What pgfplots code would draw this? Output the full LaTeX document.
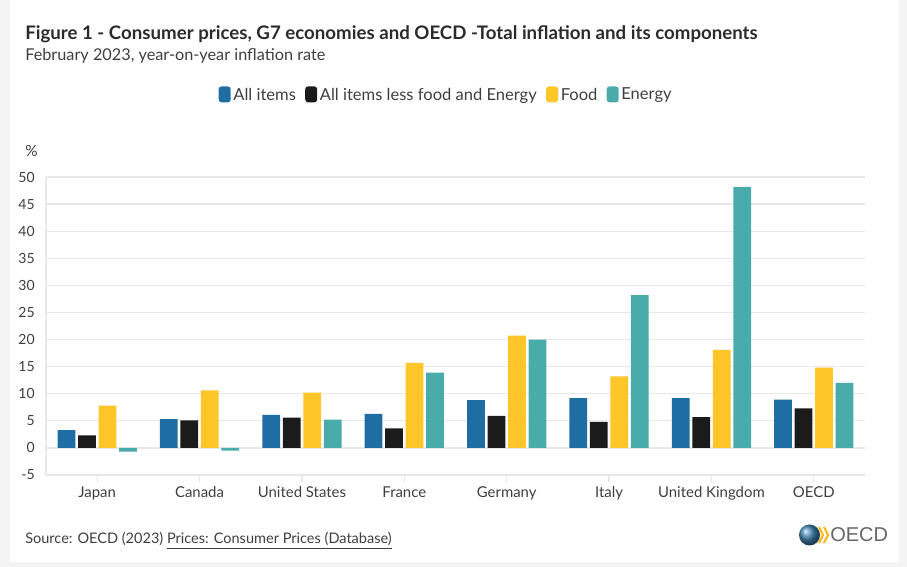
\documentclass[border=0pt]{standalone}
\usepackage{pgfplots}
\pgfplotsset{compat=1.18}
\usepackage{fontspec}
\setmainfont{Lato}
\newfontfamily\logofont{Liberation Sans}
\definecolor{cblue}{HTML}{1F6EA3}
\definecolor{cblack}{HTML}{1B1B1B}
\definecolor{cyellow}{HTML}{FFC629}
\definecolor{cteal}{HTML}{4AABAB}
\definecolor{gridc}{HTML}{E8E8E8}
\definecolor{bggray}{HTML}{F4F4F4}
\definecolor{titlec}{HTML}{2B2B2B}
\definecolor{textc}{HTML}{3F3F3F}
\definecolor{logoc}{HTML}{666666}
\pgfplotsset{
  mybar/.style={ybar, bar width=0.173, draw=none, fill=#1,
    legend image code/.code={\fill[#1,rounded corners=2.2pt] (0pt,-5.5pt) rectangle (9pt,6.5pt);}},
}
\pgfplotstableread{
x allitems core food energy
0 3.3 2.3 7.8 -0.7
1 5.3 5.1 10.6 -0.5
2 6.1 5.6 10.2 5.2
3 6.3 3.6 15.7 13.9
4 8.8 5.9 20.7 20.0
5 9.2 4.8 13.2 28.2
6 9.2 5.7 18.1 48.2
7 8.9 7.3 14.8 12.0
}\datatable
\begin{document}
\begin{tikzpicture}[x=0.75pt,y=0.75pt]
\fill[bggray] (0,0) rectangle (907,567);
\fill[white] (10,5) rectangle (899,567);
\node[anchor=base west, inner sep=0, text=titlec, font=\fontsize{14}{16}\selectfont\bfseries] at (25,527) {Figure 1 - Consumer prices, G7 economies and OECD -Total inflation and its components};
\node[anchor=base west, inner sep=0, text=textc, font=\fontsize{12.2}{14}\selectfont] at (25,506) {February 2023, year-on-year inflation rate};
\node[anchor=base west, inner sep=0, text=textc, font=\fontsize{11.5}{13}\selectfont] at (25,410) {\%};
\begin{axis}[
  at={(34.5pt,69pt)}, anchor=south west,
  scale only axis, width=614.25pt, height=223.5pt,
  xmin=-0.5, xmax=7.5, ymin=-5, ymax=50,
  xtick={0,...,7},
  xticklabels={Japan,Canada,United States,France,Germany,Italy,United Kingdom,OECD},
  ytick={-5,0,5,...,50},
  axis x line*=bottom, axis y line*=left,
  axis line style={-, draw=gridc, line width=1pt},
  ymajorgrids, major grid style={draw=gridc, line width=1pt},
  tick align=outside, major tick length=5pt,
  xtick style={draw=gridc, line width=1pt},
  ytick style={draw=none},
  /pgf/number format/assume math mode=true,
  ticklabel style={text=textc},
  xticklabel style={font=\fontsize{11.2}{13}\selectfont},
  yticklabel style={font=\fontsize{10.5}{12}\selectfont},
  legend style={at={(0.489,1.275)}, anchor=center, draw=none, fill=none,
    font=\fontsize{12.4}{14}\selectfont, text=textc,
    /tikz/every even column/.append style={column sep=5pt}},
  legend columns=4,
]
\addplot[mybar=cblue, bar shift=-0.3] table[x=x,y=allitems]{\datatable};
\addlegendentry{All items}
\addplot[mybar=cblack, bar shift=-0.1] table[x=x,y=core]{\datatable};
\addlegendentry{All items less food and Energy}
\addplot[mybar=cyellow, bar shift=0.1] table[x=x,y=food]{\datatable};
\addlegendentry{Food}
\addplot[mybar=cteal, bar shift=0.3] table[x=x,y=energy]{\datatable};
\addlegendentry{Energy}
\end{axis}
\node[anchor=base west, inner sep=0, text=textc, font=\fontsize{10.9}{13}\selectfont] at (25,23) {Source: OECD (2023) \underline{Prices: Consumer Prices (Database)}};
\shade[ball color=cblue!85!white] (809.5,32) circle (10.5);
\draw[cyellow!80!orange, line width=1.6pt] (819,40) -- (823,32) -- (819,24);
\draw[cyellow!80!orange, line width=1.6pt] (824,40) -- (828,32) -- (824,24);
\node[anchor=west, inner sep=0, text=logoc, font=\logofont\fontsize{15}{17}\selectfont] at (830,32) {OECD};
\end{tikzpicture}
\end{document}
